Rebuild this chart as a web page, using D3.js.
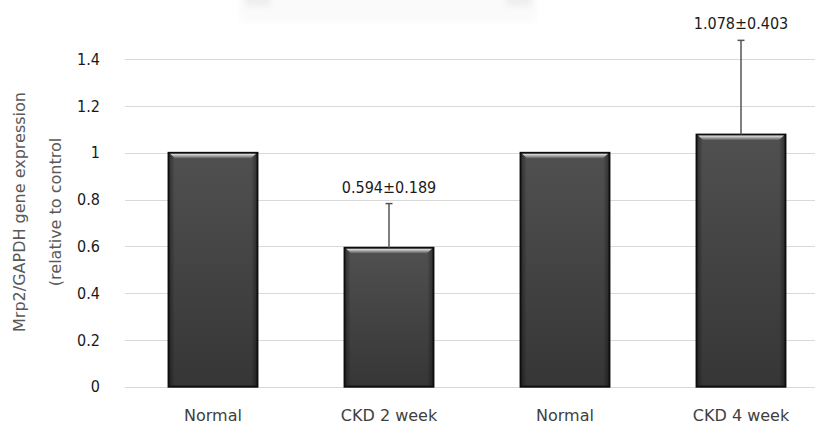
<!DOCTYPE html>
<html>
<head>
<meta charset="utf-8">
<script src="https://cdn.jsdelivr.net/npm/d3@7"></script>
<style>
  html, body { margin: 0; padding: 0; background: #fff; }
  svg { display: block; }
</style>
</head>
<body>
<svg id="chart" width="815" height="425"></svg>
<script>
// Mrp2/GAPDH expression, relative to control
const categories = ["Normal", "CKD 2 week", "Normal", "CKD 4 week"];
const means = [1, 0.594, 1, 1.078];
const sds = [null, 0.189, null, 0.403];
const valueLabels = [null, "0.594±0.189", null, "1.078±0.403"];
const yTicks = [0, 0.2, 0.4, 0.6, 0.8, 1, 1.2, 1.4];
const yTickLabels = ["0", "0.2", "0.4", "0.6", "0.8", "1", "1.2", "1.4"];
const yTitleLines = ["Mrp2/GAPDH gene expression", "(relative to control"];

const W = 815, H = 425;
const svg = d3.select("#chart");
const font = "'DejaVu Sans', sans-serif";
const numFont = "'DejaVu Sans Condensed', 'DejaVu Sans', sans-serif";

const x = d3.scaleBand()
  .domain(d3.range(categories.length))
  .range([125, 829])
  .paddingInner(0.495)
  .paddingOuter(0.2475);

const y = d3.scaleLinear().domain([0, 1.4]).range([386.7, 59.3]);

const defs = svg.append("defs");
const body = defs.append("linearGradient").attr("id", "barFill")
  .attr("x1", 0).attr("y1", 0).attr("x2", 0).attr("y2", 1);
body.append("stop").attr("offset", "0%").attr("stop-color", "#505050");
body.append("stop").attr("offset", "100%").attr("stop-color", "#363636");

const side = defs.append("linearGradient").attr("id", "barSide")
  .attr("x1", 0).attr("y1", 0).attr("x2", 1).attr("y2", 0);
side.append("stop").attr("offset", "0%").attr("stop-color", "#000").attr("stop-opacity", 0.35);
side.append("stop").attr("offset", "6%").attr("stop-color", "#000").attr("stop-opacity", 0);
side.append("stop").attr("offset", "94%").attr("stop-color", "#000").attr("stop-opacity", 0);
side.append("stop").attr("offset", "100%").attr("stop-color", "#000").attr("stop-opacity", 0.35);

const bevel = defs.append("linearGradient").attr("id", "bevel")
  .attr("x1", 0).attr("y1", 0).attr("x2", 0).attr("y2", 1);
bevel.append("stop").attr("offset", "0%").attr("stop-color", "#e6e6e6");
bevel.append("stop").attr("offset", "100%").attr("stop-color", "#5a5a5a");

const soft = defs.append("filter").attr("id", "soft")
  .attr("x", "-20%").attr("y", "-50%").attr("width", "140%").attr("height", "200%");
soft.append("feGaussianBlur").attr("stdDeviation", 3);

// faint faded header strip
const haze = svg.append("g").attr("filter", "url(#soft)");
haze.append("rect").attr("x", 240).attr("y", -6).attr("width", 296).attr("height", 28).attr("fill", "#fafafa");
haze.append("rect").attr("x", 245).attr("y", -6).attr("width", 26).attr("height", 12).attr("fill", "#eeeeee");
haze.append("rect").attr("x", 506).attr("y", -6).attr("width", 26).attr("height", 12).attr("fill", "#eeeeee");

// gridlines
svg.append("g").selectAll("line")
  .data(yTicks)
  .join("line")
  .attr("x1", 125).attr("x2", W)
  .attr("y1", d => Math.round(y(d)) + 0.5).attr("y2", d => Math.round(y(d)) + 0.5)
  .attr("stroke", "#d9d9d9").attr("stroke-width", 1);

// y axis tick labels
const yAxis = d3.axisLeft(y).tickValues(yTicks)
  .tickFormat((d, i) => yTickLabels[i]).tickSize(0).tickPadding(0);
const gy = svg.append("g").attr("transform", "translate(100,0)").call(yAxis);
gy.select(".domain").remove();
gy.selectAll("text").attr("font-family", numFont).attr("font-size", 16).attr("fill", "#1a1a1a");

// y axis title
svg.append("text")
  .attr("transform", "translate(25,212) rotate(-90)")
  .attr("text-anchor", "middle").attr("font-family", font).attr("font-size", 16)
  .attr("fill", "#595959").text(yTitleLines[0]);
svg.append("text")
  .attr("transform", "translate(61,212) rotate(-90)")
  .attr("text-anchor", "middle").attr("font-family", font).attr("font-size", 16)
  .attr("fill", "#595959").text(yTitleLines[1]);

// bars
const bars = svg.append("g").selectAll("g")
  .data(means.map((m, i) => ({ i, m })))
  .join("g");

bars.append("rect")
  .attr("x", d => x(d.i)).attr("y", d => y(d.m))
  .attr("width", x.bandwidth()).attr("height", d => y(0) - y(d.m))
  .attr("fill", "url(#barFill)").attr("stroke", "#0d0d0d").attr("stroke-width", 2);
bars.append("rect")
  .attr("x", d => x(d.i) + 1).attr("y", d => y(d.m) + 1)
  .attr("width", x.bandwidth() - 2).attr("height", d => y(0) - y(d.m) - 2)
  .attr("fill", "url(#barSide)");
bars.append("path")
  .attr("d", d => {
    const x0 = x(d.i) + 1.5, x1 = x(d.i) + x.bandwidth() - 1.5, t = y(d.m) + 1;
    return `M${x0},${t}L${x1},${t}L${x1 - 5},${t + 4.5}L${x0 + 5},${t + 4.5}Z`;
  })
  .attr("fill", "url(#bevel)");

// error bars (upper only)
const err = svg.append("g").selectAll("g")
  .data(means.map((m, i) => ({ i, m, sd: sds[i], label: valueLabels[i] })).filter(d => d.sd != null))
  .join("g");
const cx = d => x(d.i) + x.bandwidth() / 2;
err.append("line")
  .attr("x1", cx).attr("x2", cx)
  .attr("y1", d => y(d.m)).attr("y2", d => y(d.m + d.sd))
  .attr("stroke", "#555").attr("stroke-width", 1.5);
err.append("line")
  .attr("x1", d => cx(d) - 3.5).attr("x2", d => cx(d) + 3.5)
  .attr("y1", d => y(d.m + d.sd)).attr("y2", d => y(d.m + d.sd))
  .attr("stroke", "#555").attr("stroke-width", 1.5);
err.append("text")
  .attr("x", cx).attr("y", d => y(d.m + d.sd) - 11)
  .attr("text-anchor", "middle").attr("font-family", numFont).attr("font-size", 16)
  .attr("fill", "#1a1a1a").text(d => d.label);

// category labels
const xAxis = d3.axisBottom(x).tickFormat(i => categories[i]).tickSize(0).tickPadding(0);
const gx = svg.append("g").attr("transform", "translate(0,410)").call(xAxis);
gx.select(".domain").remove();
gx.selectAll("text").attr("font-family", font).attr("font-size", 16).attr("fill", "#404040");
</script>
</body>
</html>
